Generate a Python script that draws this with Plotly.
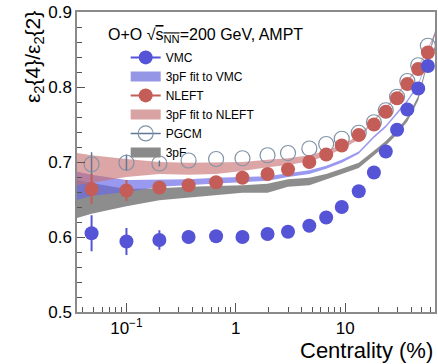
import plotly.graph_objects as go

# ---- data ----
centrality = [0.048, 0.1, 0.2, 0.37, 0.66, 1.15, 1.95, 3.0, 4.7, 6.7, 9.3, 13.3,
              18.3, 23.5, 29.8, 37, 46.5, 57]
vmc = [0.605, 0.594, 0.596, 0.600, 0.601, 0.600, 0.604, 0.607, 0.615, 0.626, 0.640,
       0.661, 0.686, 0.714, 0.743, 0.770, 0.798, 0.828]
vmc_err = [0.024, 0.018, 0.013, 0.009, 0.005, 0.004, 0.003, 0.003, 0.003, 0.003, 0.003,
           0.003, 0.003, 0.003, 0.003, 0.003, 0.003, 0.003]
nleft = [0.664, 0.662, 0.666, 0.669, 0.673, 0.679, 0.684, 0.690, 0.700, 0.710, 0.722,
         0.736, 0.750, 0.767, 0.785, 0.804, 0.824, 0.846]
nleft_err = [0.020, 0.014, 0.008, 0.006, 0.004, 0.003, 0.003, 0.003, 0.003, 0.003, 0.003,
             0.003, 0.003, 0.003, 0.003, 0.003, 0.003, 0.003]
pgcm = [0.697, 0.699, 0.698, 0.702, 0.704, 0.705, 0.709, 0.712, 0.718, 0.724, 0.731,
        0.739, 0.753, 0.769, 0.787, 0.808, 0.829, 0.855]
pgcm_err = [0.016, 0.011, 0.004, 0, 0, 0, 0, 0, 0, 0, 0, 0, 0, 0, 0, 0, 0, 0]

band_c = [0.035, 0.048, 0.1, 0.2, 0.37, 0.66, 1.15, 1.95, 3.0, 4.7, 6.7, 9.3, 13.3,
          18.3, 23.5, 29.8, 37, 46.5, 57, 66]
fit_nleft_hi = [0.712, 0.709, 0.704, 0.700, 0.699, 0.699, 0.700, 0.703, 0.705, 0.709,
                0.715, 0.723, 0.735, 0.757, 0.773, 0.791, 0.809, 0.828, 0.852, 0.872]
fit_nleft_lo = [0.669, 0.673, 0.680, 0.684, 0.683, 0.684, 0.688, 0.693, 0.696, 0.701,
                0.708, 0.717, 0.730, 0.754, 0.770, 0.788, 0.806, 0.825, 0.849, 0.869]
fit_vmc_hi = [0.687, 0.683, 0.676, 0.676, 0.677, 0.679, 0.680, 0.681, 0.685, 0.689,
              0.695, 0.703, 0.714, 0.735, 0.749, 0.767, 0.783, 0.804, 0.841, 0.875]
fit_vmc_lo = [0.649, 0.655, 0.660, 0.667, 0.669, 0.671, 0.673, 0.675, 0.680, 0.684,
              0.691, 0.699, 0.711, 0.732, 0.746, 0.764, 0.780, 0.801, 0.838, 0.872]
tpf_hi = [0.676, 0.672, 0.664, 0.665, 0.667, 0.668, 0.669, 0.671, 0.677, 0.679,
          0.684, 0.691, 0.699, 0.715, 0.728, 0.743, 0.760, 0.788, 0.839, 0.873]
tpf_lo = [0.625, 0.631, 0.641, 0.649, 0.653, 0.656, 0.659, 0.659, 0.667, 0.669,
          0.677, 0.684, 0.692, 0.709, 0.722, 0.737, 0.754, 0.782, 0.833, 0.869]

x_tickvals = [0.1, 1, 10]
x_ticktext = ["10<sup>\u22121</sup>", "1", "10"]

# ---- styles ----
C_VMC = "#5553d6"
C_NLEFT = "#c45c58"
C_PGCM = "#8093a6"
C_PGCM_LINE = "#5d7893"
F_VMC = "rgba(105,105,232,0.68)"
F_NLEFT = "rgba(200,112,112,0.62)"
F_3PF = "rgba(112,112,112,0.8)"
L_VMC = "#9696e6"
L_NLEFT = "#d9a3a3"
L_3PF = "#8a8a8a"
FONT = "Liberation Sans, Arial, sans-serif"

fig = go.Figure()


def band(lo, hi, fill):
    fig.add_trace(go.Scatter(
        x=band_c + band_c[::-1], y=hi + lo[::-1], fill="toself", fillcolor=fill,
        mode="lines", line=dict(width=0, color=fill), showlegend=False,
        hoverinfo="skip"))


band(tpf_lo, tpf_hi, F_3PF)
band(fit_vmc_lo, fit_vmc_hi, F_VMC)
band(fit_nleft_lo, fit_nleft_hi, F_NLEFT)

# data points
fig.add_trace(go.Scatter(
    x=centrality, y=pgcm, mode="markers", showlegend=False,
    marker=dict(symbol="circle-open", size=15, color=C_PGCM, line=dict(width=1.2)),
    error_y=dict(type="data", array=pgcm_err, color=C_PGCM_LINE, thickness=1.5, width=0)))
fig.add_trace(go.Scatter(
    x=centrality, y=nleft, mode="markers", showlegend=False,
    marker=dict(symbol="circle", size=14, color=C_NLEFT),
    error_y=dict(type="data", array=nleft_err, color=C_NLEFT, thickness=2, width=0)))
fig.add_trace(go.Scatter(
    x=centrality, y=vmc, mode="markers", showlegend=False,
    marker=dict(symbol="circle", size=14, color=C_VMC),
    error_y=dict(type="data", array=vmc_err, color=C_VMC, thickness=2, width=0)))

# legend entries
fig.add_trace(go.Scatter(x=[None], y=[None], mode="lines+markers", name="VMC",
                         legendrank=1, line=dict(color=C_VMC, width=2),
                         marker=dict(size=14, color=C_VMC)))
fig.add_trace(go.Scatter(x=[None], y=[None], mode="lines", name="3pF fit to VMC",
                         legendrank=2, line=dict(color=L_VMC, width=12)))
fig.add_trace(go.Scatter(x=[None], y=[None], mode="lines+markers", name="NLEFT",
                         legendrank=3, line=dict(color=C_NLEFT, width=2),
                         marker=dict(size=14, color=C_NLEFT)))
fig.add_trace(go.Scatter(x=[None], y=[None], mode="lines", name="3pF fit to NLEFT",
                         legendrank=4, line=dict(color=L_NLEFT, width=12)))
fig.add_trace(go.Scatter(x=[None], y=[None], mode="lines+markers", name="PGCM",
                         legendrank=5, line=dict(color=C_PGCM_LINE, width=1.5),
                         marker=dict(symbol="circle-open", size=15, color=C_PGCM,
                                     line=dict(width=1.2))))
fig.add_trace(go.Scatter(x=[None], y=[None], mode="lines", name="3pF",
                         legendrank=6, line=dict(color=L_3PF, width=12)))

axis_common = dict(showline=True, linecolor="#8a8a8a", linewidth=1.5, mirror=True,
                   ticks="inside", tickcolor="#555", showgrid=False, zeroline=False,
                   tickfont=dict(family=FONT, size=17, color="black"))

fig.update_xaxes(type="log", range=[-1.452, 1.821], tickvals=x_tickvals,
                 ticktext=x_ticktext, ticklen=9, tickwidth=1,
                 minor=dict(dtick="D1", ticks="inside", ticklen=5, tickcolor="#555",
                            showgrid=False),
                 **axis_common)
fig.update_yaxes(range=[0.5, 0.9], tickvals=[0.5, 0.6, 0.7, 0.8, 0.9],
                 ticktext=["0.5", "0.6", "0.7", "0.8", "0.9"], ticklen=8, tickwidth=1,
                 minor=dict(dtick=0.02, ticks="inside", ticklen=5, tickcolor="#555",
                            showgrid=False),
                 **axis_common)

fig.update_layout(
    width=438, height=364,
    margin=dict(l=77, r=1, t=12, b=52),
    paper_bgcolor="white", plot_bgcolor="white",
    font=dict(family=FONT, color="black"),
    showlegend=True,
    legend=dict(x=0.136, y=0.897, xanchor="left", yanchor="top",
                bgcolor="rgba(0,0,0,0)", font=dict(family=FONT, size=12),
                tracegroupgap=0),
    annotations=[
        dict(text="O+O \u221a<span style='text-decoration:overline'>s<sub>NN</sub></span>=200 GeV, AMPT",
             xref="paper", yref="paper", x=0.0806, y=0.923, xanchor="left",
             yanchor="middle", showarrow=False, font=dict(family=FONT, size=16)),
        dict(text="\u03b5<sub>2</sub>{4}/\u03b5<sub>2</sub>{2}", textangle=-90,
             xref="paper", yref="paper", x=-0.12, y=1.01, xanchor="center",
             yanchor="top", showarrow=False, font=dict(family=FONT, size=21)),
        dict(text="Centrality (%)", xref="paper", yref="paper", x=1.0, y=-0.127,
             xanchor="right", yanchor="middle", showarrow=False,
             font=dict(family=FONT, size=22)),
    ],
)

fig.write_html("out.html")
